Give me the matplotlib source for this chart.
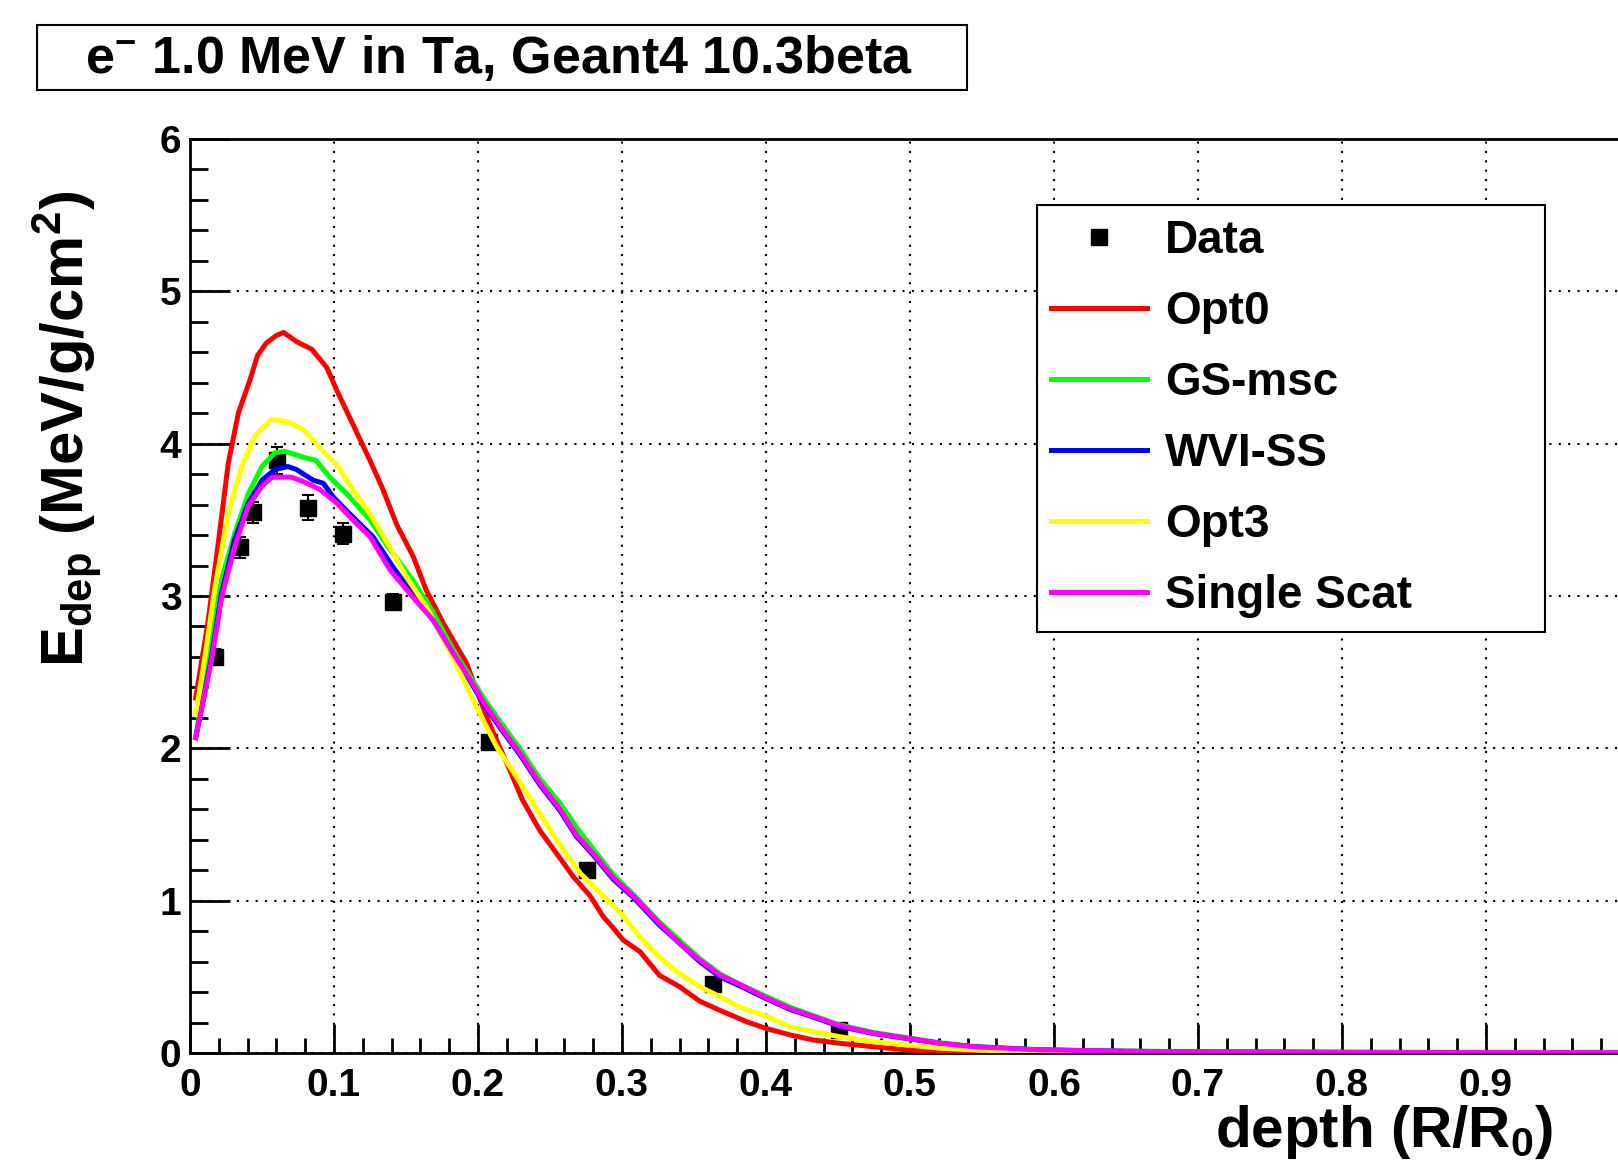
import matplotlib
matplotlib.use("Agg")
import matplotlib.pyplot as plt
from matplotlib.patches import Rectangle
from matplotlib.ticker import MultipleLocator

plt.rcParams['font.family'] = ['Liberation Sans', 'DejaVu Sans']
plt.rcParams['font.weight'] = 'bold'
plt.rcParams['mathtext.fontset'] = 'custom'
plt.rcParams['mathtext.rm'] = 'Liberation Sans:bold'
plt.rcParams['mathtext.it'] = 'Liberation Sans:bold'
plt.rcParams['mathtext.bf'] = 'Liberation Sans:bold'
plt.rcParams['mathtext.default'] = 'regular'

# ---------------- data ----------------
data_x = [0.0174, 0.0347, 0.0435, 0.0606, 0.0817, 0.1065, 0.141, 0.2075, 0.2756, 0.363, 0.451]
data_y = [2.60, 3.32, 3.55, 3.89, 3.58, 3.41, 2.96, 2.04, 1.20, 0.45, 0.15]
data_err = [0.05, 0.07, 0.07, 0.09, 0.08, 0.07, 0.05, 0.04, 0.04, 0.03, 0.02]

opt0_x = [0.004, 0.0127, 0.0197, 0.0266, 0.0336, 0.0417, 0.047, 0.053, 0.060, 0.065, 0.074,
          0.0845, 0.095, 0.102, 0.113, 0.125, 0.134, 0.1435, 0.155, 0.164, 0.176, 0.192,
          0.200, 0.208, 0.222, 0.231, 0.243, 0.2546, 0.266, 0.278, 0.287, 0.294, 0.301,
          0.3125, 0.326, 0.340, 0.354, 0.368, 0.3866, 0.4005, 0.417, 0.433, 0.451, 0.4745,
          0.498, 0.521, 0.56, 0.60, 0.70, 0.80, 1.0]
opt0_y = [2.33, 2.84, 3.35, 3.87, 4.20, 4.42, 4.58, 4.66, 4.71, 4.73, 4.67,
          4.62, 4.50, 4.35, 4.13, 3.89, 3.70, 3.47, 3.26, 3.04, 2.82, 2.56,
          2.36, 2.16, 1.86, 1.66, 1.46, 1.31, 1.16, 1.03, 0.895, 0.82, 0.74,
          0.665, 0.51, 0.435, 0.34, 0.28, 0.205, 0.16, 0.118, 0.085, 0.064, 0.041,
          0.02, 0.01, 0.004, 0.002, 0.001, 0.0, 0.0]

gs_x = [0.004, 0.015, 0.022, 0.031, 0.0405, 0.050, 0.059, 0.066, 0.079, 0.0875, 0.097,
        0.109, 0.125, 0.137, 0.155, 0.169, 0.183, 0.194, 0.204, 0.215, 0.229, 0.243,
        0.257, 0.2685, 0.280, 0.294, 0.308, 0.326, 0.340, 0.354, 0.368, 0.382, 0.4005,
        0.417, 0.433, 0.451, 0.4745, 0.498, 0.521, 0.544, 0.567, 0.59, 0.65, 0.70,
        0.80, 0.90, 1.0]
gs_y = [2.07, 2.73, 3.11, 3.41, 3.67, 3.85, 3.94, 3.95, 3.91, 3.89, 3.78,
        3.67, 3.50, 3.33, 3.10, 2.89, 2.64, 2.48, 2.33, 2.18, 2.00, 1.80,
        1.64, 1.48, 1.34, 1.17, 1.04, 0.86, 0.74, 0.62, 0.52, 0.45, 0.37,
        0.30, 0.245, 0.185, 0.135, 0.10, 0.067, 0.043, 0.032, 0.021, 0.012, 0.008,
        0.004, 0.002, 0.001]

wvi_x = [0.004, 0.015, 0.022, 0.031, 0.0405, 0.050, 0.059, 0.068, 0.074, 0.0856, 0.0926,
         0.0995, 0.113, 0.127, 0.141, 0.155, 0.169, 0.183, 0.194, 0.204, 0.215, 0.229,
         0.243, 0.257, 0.2685, 0.280, 0.294, 0.308, 0.326, 0.340, 0.354, 0.368, 0.382,
         0.4005, 0.417, 0.433, 0.451, 0.4745, 0.498, 0.521, 0.544, 0.567, 0.59, 0.65,
         0.70, 0.80, 0.90, 1.0]
wvi_y = [2.07, 2.60, 3.02, 3.37, 3.61, 3.76, 3.83, 3.85, 3.83, 3.76, 3.74,
         3.65, 3.52, 3.39, 3.19, 3.01, 2.84, 2.61, 2.45, 2.29, 2.14, 1.96,
         1.76, 1.59, 1.42, 1.30, 1.14, 1.02, 0.84, 0.72, 0.60, 0.50, 0.44,
         0.355, 0.285, 0.235, 0.175, 0.128, 0.095, 0.063, 0.041, 0.030, 0.02, 0.011,
         0.007, 0.004, 0.002, 0.001]

opt3_x = [0.004, 0.0104, 0.0174, 0.0266, 0.0359, 0.045, 0.0567, 0.065, 0.0706, 0.079,
          0.0926, 0.102, 0.113, 0.125, 0.137, 0.150, 0.164, 0.176, 0.1875, 0.199, 0.213,
          0.227, 0.241, 0.2546, 0.271, 0.285, 0.299, 0.3125, 0.326, 0.340, 0.354, 0.368,
          0.382, 0.4005, 0.417, 0.433, 0.451, 0.4745, 0.498, 0.521, 0.544, 0.567, 0.60,
          0.70, 0.80, 1.0]
opt3_y = [2.22, 2.60, 3.06, 3.54, 3.85, 4.05, 4.16, 4.15, 4.13, 4.09,
          3.95, 3.86, 3.70, 3.54, 3.35, 3.13, 2.93, 2.72, 2.50, 2.27, 2.01,
          1.81, 1.60, 1.40, 1.18, 1.05, 0.92, 0.76, 0.63, 0.52, 0.435, 0.37,
          0.30, 0.24, 0.17, 0.14, 0.107, 0.074, 0.053, 0.031, 0.02, 0.013, 0.007,
          0.002, 0.001, 0.0]

ss_x = [0.004, 0.015, 0.022, 0.031, 0.0405, 0.050, 0.057, 0.0706, 0.079, 0.090, 0.102,
        0.113, 0.125, 0.139, 0.155, 0.169, 0.183, 0.194, 0.204, 0.215, 0.229, 0.243,
        0.257, 0.2685, 0.280, 0.294, 0.308, 0.326, 0.340, 0.354, 0.368, 0.382, 0.4005,
        0.417, 0.433, 0.451, 0.4745, 0.498, 0.521, 0.544, 0.567, 0.59, 0.65, 0.70,
        0.80, 0.90, 1.0]
ss_y = [2.07, 2.58, 2.99, 3.32, 3.59, 3.72, 3.78, 3.78, 3.75, 3.70, 3.61,
        3.50, 3.39, 3.17, 2.99, 2.84, 2.62, 2.46, 2.30, 2.15, 1.97, 1.77,
        1.60, 1.43, 1.31, 1.15, 1.03, 0.85, 0.72, 0.61, 0.51, 0.45, 0.36,
        0.29, 0.24, 0.18, 0.13, 0.097, 0.064, 0.041, 0.031, 0.02, 0.012, 0.008,
        0.005, 0.003, 0.002]

series = [
    ("Opt0", opt0_x, opt0_y, "#ff0000"),
    ("GS-msc", gs_x, gs_y, "#00ff00"),
    ("WVI-SS", wvi_x, wvi_y, "#0000ff"),
    ("Opt3", opt3_x, opt3_y, "#ffff00"),
    ("Single Scat", ss_x, ss_y, "#ff00ff"),
]

x_ticks = [0, 0.1, 0.2, 0.3, 0.4, 0.5, 0.6, 0.7, 0.8, 0.9]
x_ticklabels = ["0", "0.1", "0.2", "0.3", "0.4", "0.5", "0.6", "0.7", "0.8", "0.9"]
y_ticks = [0, 1, 2, 3, 4, 5, 6]

# ---------------- figure ----------------
fig = plt.figure(figsize=(16.18, 11.67), dpi=100)
ax = fig.add_axes([0.1174, 0.0977, 0.8900, 0.7832])
ax.set_xlim(0, 1)
ax.set_ylim(0, 6)

ax.errorbar(data_x, data_y, yerr=data_err, fmt='none', ecolor='black',
            elinewidth=1.5, capsize=4, capthick=1.5, zorder=3)
ax.plot(data_x, data_y, 's', color='black', markersize=12, label='Data', zorder=3)

for name, xs, ys, col in series:
    ax.plot(xs, ys, '-', color=col, lw=3.6, label=name, zorder=4,
            solid_joinstyle='round')

ax.set_xticks(x_ticks)
ax.set_xticklabels(x_ticklabels)
ax.set_yticks(y_ticks)
ax.xaxis.set_minor_locator(MultipleLocator(0.02))
ax.yaxis.set_minor_locator(MultipleLocator(0.2))
ax.tick_params(axis='both', which='both', direction='in', top=False, right=False,
               width=2, colors='black', labelsize=28)
ax.tick_params(axis='y', which='major', length=29, pad=6)
ax.tick_params(axis='y', which='minor', length=13)
ax.tick_params(axis='x', which='major', length=21, pad=11)
ax.tick_params(axis='x', which='minor', length=10.5)
for s in ax.spines.values():
    s.set_linewidth(2)
ax.grid(True, which='major', color='black', linestyle=(0, (1, 3.5)), linewidth=1.5)
ax.set_axisbelow(True)

# legend
handles, labels = ax.get_legend_handles_labels()
leg = ax.legend(handles, labels, loc='upper left',
                bbox_to_anchor=(0.6409, 0.4593, 0.3140, 0.365),
                bbox_transform=fig.transFigure, mode='expand', borderaxespad=0,
                frameon=True, fancybox=False, edgecolor='black', framealpha=1,
                fontsize=33, handlelength=2.1, handletextpad=0.4,
                labelspacing=0.59, borderpad=0.30, markerscale=1.0)
leg.get_frame().set_linewidth(1.5)
leg.set_zorder(10)

# axis titles
fig.text(0.9598, 0.0171, "depth (R/R$_{0}$)", ha='right', va='baseline',
         fontsize=42, fontweight='bold')
fig.text(0.0414, 0.8363, "E$_{dep}$ (MeV/g/cm$^{2}$)", ha='center', va='top',
         rotation=90, fontsize=43, fontweight='bold')

# title box
fig.patches.append(Rectangle((0.02287, 0.92288), 0.5748, 0.0557, transform=fig.transFigure,
                             fill=True, facecolor='white', edgecolor='black', linewidth=1.5))
fig.text(0.3084, 0.93745, "e$^{-}$ 1.0 MeV in Ta, Geant4 10.3beta", ha='center',
         va='baseline', fontsize=37.5, fontweight='bold')

fig.savefig("out.png", dpi=100)
